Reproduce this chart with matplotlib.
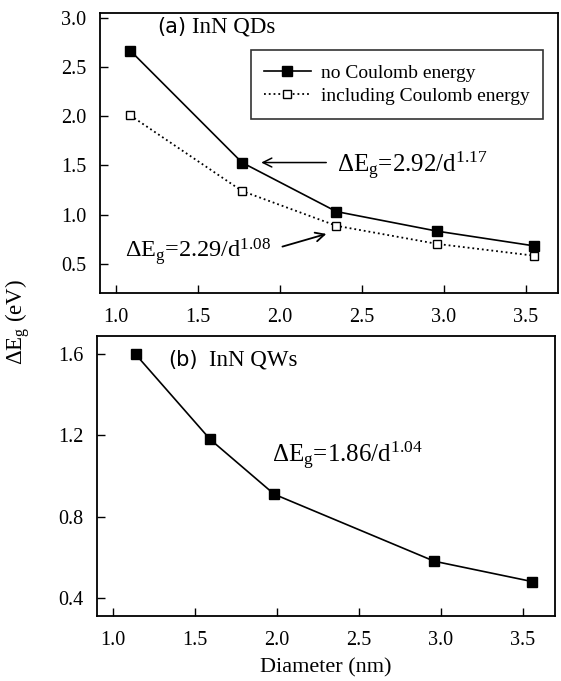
import matplotlib
matplotlib.use("Agg")
import matplotlib.pyplot as plt

# Data
qd_d = [1.09, 1.77, 2.345, 2.96, 3.55]
qd_no_coul = [2.67, 1.53, 1.03, 0.83, 0.68]
qd_coul = [2.01, 1.24, 0.885, 0.70, 0.58]

qw_d = [1.14, 1.595, 1.985, 2.96, 3.555]
qw_e = [1.60, 1.18, 0.91, 0.58, 0.48]

xticks = [1.0, 1.5, 2.0, 2.5, 3.0, 3.5]
yticks_a = [0.5, 1.0, 1.5, 2.0, 2.5, 3.0]
yticks_b = [0.4, 0.8, 1.2, 1.6]

plt.rcParams['font.family'] = ['Liberation Serif', 'DejaVu Serif']
plt.rcParams['mathtext.fontset'] = 'custom'
plt.rcParams['mathtext.rm'] = 'Liberation Serif'
plt.rcParams['mathtext.it'] = 'Liberation Serif:italic'

fig = plt.figure(figsize=(5.61, 6.81), dpi=100)
ax1 = fig.add_axes([0.1783, 0.5698, 0.8164, 0.4104])
ax2 = fig.add_axes([0.1729, 0.0954, 0.8164, 0.4112])

for ax in (ax1, ax2):
    ax.set_xlim(0.905, 3.695)
    ax.set_xticks(xticks)
    ax.set_xticklabels([f"{t:.1f}" for t in xticks])
    ax.tick_params(direction='in', length=6, width=1, labelsize=14.5, pad=10,
                   top=False, right=False)
    ax.tick_params(axis='x', pad=11)
    for s in ax.spines.values():
        s.set_linewidth(1.3)

ax1.set_ylim(0.2, 3.05)
ax1.set_yticks(yticks_a)
ax1.set_yticklabels([f"{t:.1f}" for t in yticks_a])
ax2.set_ylim(0.31, 1.69)
ax2.set_yticks(yticks_b)
ax2.set_yticklabels([f"{t:.1f}" for t in yticks_b])

ax1.plot(qd_d, qd_no_coul, '-', color='black', lw=1.2, marker='s', ms=7,
         mfc='black', mec='black', label='no Coulomb energy')
ax1.plot(qd_d, qd_coul, ':', color='black', lw=1.3, marker='s', ms=6,
         mfc='white', mec='black', mew=1.0, label='including Coulomb energy')

leg = ax1.legend(loc='upper right', bbox_to_anchor=(0.967, 0.868), fontsize=14,
                 frameon=True, fancybox=False, edgecolor='black', handlelength=2.4,
                 borderpad=0.7, labelspacing=0.3, handletextpad=0.5, borderaxespad=0)
leg.get_frame().set_linewidth(1.2)

ax1.text(0.125, 0.95, '(a)', transform=ax1.transAxes, fontsize=15,
         family='DejaVu Sans', va='center', ha='left')
ax1.text(0.20, 0.95, 'InN QDs', transform=ax1.transAxes, fontsize=16.5,
         va='center', ha='left')

ax1.text(2.35, 1.50, r'$\Delta\mathrm{E}_\mathrm{g}$=2.92/d$^{1.17}$', fontsize=18,
         va='center', ha='left')
ax1.annotate('', xy=(1.87, 1.53), xytext=(2.30, 1.53),
             arrowprops=dict(arrowstyle='->', color='black', lw=1.1,
                             mutation_scale=16))
ax1.text(1.06, 0.62, r'$\Delta\mathrm{E}_\mathrm{g}$=2.29/d$^{1.08}$', fontsize=17.5,
         va='center', ha='left')
ax1.annotate('', xy=(2.30, 0.81), xytext=(2.00, 0.665),
             arrowprops=dict(arrowstyle='->', color='black', lw=1.3,
                             mutation_scale=16))

ax2.plot(qw_d, qw_e, '-', color='black', lw=1.2, marker='s', ms=7,
         mfc='black', mec='black')
ax2.text(0.155, 0.915, '(b)', transform=ax2.transAxes, fontsize=15,
         family='DejaVu Sans', va='center', ha='left')
ax2.text(0.245, 0.915, 'InN QWs', transform=ax2.transAxes, fontsize=16.5,
         va='center', ha='left')
ax2.text(1.97, 1.10, r'$\Delta\mathrm{E}_\mathrm{g}$=1.86/d$^{1.04}$', fontsize=18,
         va='center', ha='left')

ax2.set_xlabel('Diameter (nm)', fontsize=16, labelpad=6)
fig.text(0.032, 0.527, r'$\Delta\mathrm{E}_\mathrm{g}$ (eV)', rotation=90,
         fontsize=16.5, va='center', ha='center')

fig.savefig('out.png', dpi=100)
